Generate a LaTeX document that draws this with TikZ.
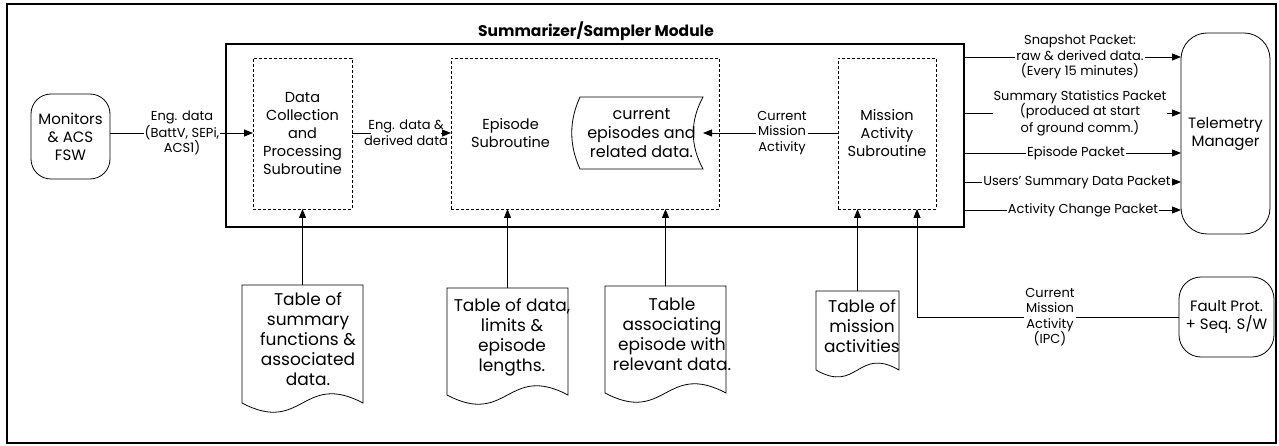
\documentclass[tikz,border=0pt]{standalone}
\usepackage{fontspec}
\setmainfont{Poppins}
\usetikzlibrary{arrows.meta,calc}
\begin{document}
\begin{tikzpicture}[x=1pt,y=-1pt,
  ln/.style={draw=black, line width=0.8pt},
  arr/.style={ln, -{Triangle[length=9pt,width=7pt]}},
  box/.style={rectangle, inner sep=0pt, outer sep=0pt},
  dbox/.style={box, draw, line width=0.7pt, dash pattern=on 3pt off 2pt},
  rbox/.style={box, draw, line width=0.8pt, align=center, font=\fontsize{15}{18}\selectfont},
  lbl/.style={inner sep=1pt, outer sep=0pt, fill=white, align=center, font=\fontsize{13}{15.5}\selectfont},
  midt/.style={inner sep=0pt, align=center, font=\fontsize{14.5}{18}\selectfont},
  tabt/.style={inner sep=0pt, align=center, font=\fontsize{17}{20}\selectfont},
  docn/.style={box},
  docline/.style={draw=black, line width=0.8pt}
]
\useasboundingbox (0,0) rectangle (1279,446);
% outer frame
\node[box, draw, line width=2.5pt, minimum width=1269pt, minimum height=439pt] (frame) at (641.5,223.5) {};

% module
\node[box, draw, line width=1.1pt, minimum width=738pt, minimum height=183pt] (mod) at (595,135.5) {};
\node[inner sep=0pt, font=\fontsize{15.5}{18}\selectfont\bfseries] (title) at (596,31) {Summarizer/Sampler Module};

% subroutines
\node[dbox, minimum width=99pt, minimum height=151pt, midt] (dc) at (302.5,133.5) {Data\\Collection\\and\\Processing\\Subroutine};
\node[dbox, minimum width=268pt, minimum height=151pt] (ep) at (585,133.5) {};
\node[midt, anchor=west] (ept) at (471,133) {Episode\\Subroutine};
\node[dbox, minimum width=98pt, minimum height=151pt, midt] (ma) at (887,133.5) {Mission\\Activity\\Subroutine};

% current episodes store
\node[box, minimum width=123pt, minimum height=72pt, font=\fontsize{16}{19}\selectfont, align=center] (ce) at (641.5,133) {current\\episodes and\\related data.};
\draw[docline] (ce.north west) -- (ce.north east)
  .. controls +(-13,24) and +(-13,-24) .. (ce.south east)
  -- (ce.south west)
  .. controls +(-11,-24) and +(-11,24) .. (ce.north west) -- cycle;

% external entities
\node[rbox, rounded corners=20pt, minimum width=79pt, minimum height=85pt] (mon) at (70.5,136.5) {Monitors\\\& ACS\\FSW};
\node[rbox, rounded corners=26pt, minimum width=89pt, minimum height=201pt] (tel) at (1225.5,133.5) {Telemetry\\Manager};
\node[rbox, rounded corners=22pt, minimum width=95pt, minimum height=80pt] (fp) at (1226.5,317) {Fault Prot.\\+ Seq. S/W};

% documents
\node[docn, minimum width=121pt, minimum height=118pt] (d1) at (302.5,344) {};
\node[docn, minimum width=121pt, minimum height=107pt] (d2) at (507.5,341.5) {};
\node[docn, minimum width=121pt, minimum height=107pt] (d3) at (665.5,339.5) {};
\node[docn, minimum width=83pt, minimum height=79pt] (d4) at (857.5,330.5) {};
\foreach \d/\w/\c in {d1/60.5/32, d2/60.5/32, d3/60.5/32, d4/41.5/24}{
  \draw[docline] (\d.south east) .. controls +(-\w,-\c) and +(\w,\c) .. (\d.south west)
    -- (\d.north west) -- (\d.north east) -- cycle;
}
\node[tabt] (t1) at (308,339) {Table of\\summary\\functions \&\\associated\\data.};
\node[tabt] (t2) at (512,337) {Table of data,\\limits \&\\episode\\lengths.};
\node[tabt] (t3) at (672,334) {Table\\associating\\episode with\\relevant data.};
\node[tabt] (t4) at (862,326) {Table of\\mission\\activities};

% labels
\node[lbl] (l1) at (182,133) {Eng. data\\(BattV, SEPi,\\ACS1)};
\node[lbl, fill=none] (l2) at (406,133) {Eng. data \&\\derived data};
\node[lbl] (l3) at (782,133) {Current\\Mission\\Activity};
\node[lbl] (s1) at (1080,57) {Snapshot Packet:\\raw \& derived data.\\(Every 15 minutes)};
\node[lbl] (s2) at (1080,113) {Summary Statistics Packet\\(produced at start\\of ground comm.)};
\node[lbl] (s3) at (1076,153) {Episode Packet};
\node[lbl] (s4) at (1077,182) {Users' Summary Data Packet};
\node[lbl] (s5) at (1083,210) {Activity Change Packet};
\node[lbl] (lf) at (1050,317) {Current\\Mission\\Activity\\(IPC)};

% connectors
\draw[ln] (mon.east |- l1.west) -- (l1.west);
\draw[arr] (l1.east) -- (l1.east -| dc.west);
\draw[ln] (dc.east |- l2.west) -- ($(l2.west)+(8,0)$);
\draw[arr] ($(l2.east)+(-8,0)$) -- (l2.east -| ep.west);
\draw[ln] (ma.west |- l3.east) -- (l3.east);
\draw[arr] (l3.west) -- (l3.west -| ce.east);

\foreach \i/\dy in {1/13, 2/69, 3/109, 4/138, 5/166}{
  \coordinate (o\i) at ($(mod.north east)+(0,\dy)$);
  \draw[ln] (o\i) -- (o\i -| s\i.west);
  \draw[arr] (o\i -| s\i.east) -- (o\i -| tel.west);
}

\draw[arr] (d1.north) -- (d1.north |- dc.south);
\draw[arr] (d2.north) -- (d2.north |- ep.south);
\draw[arr] (d3.north) -- (d3.north |- ep.south);
\draw[arr] (d4.north) -- (d4.north |- ma.south);

\coordinate (fc) at (917,317);
\draw[ln] (fp.west) -- (lf.east);
\draw[ln] (lf.west) -- (fc);
\draw[arr] (fc) -- (fc |- ma.south);
\end{tikzpicture}
\end{document}
